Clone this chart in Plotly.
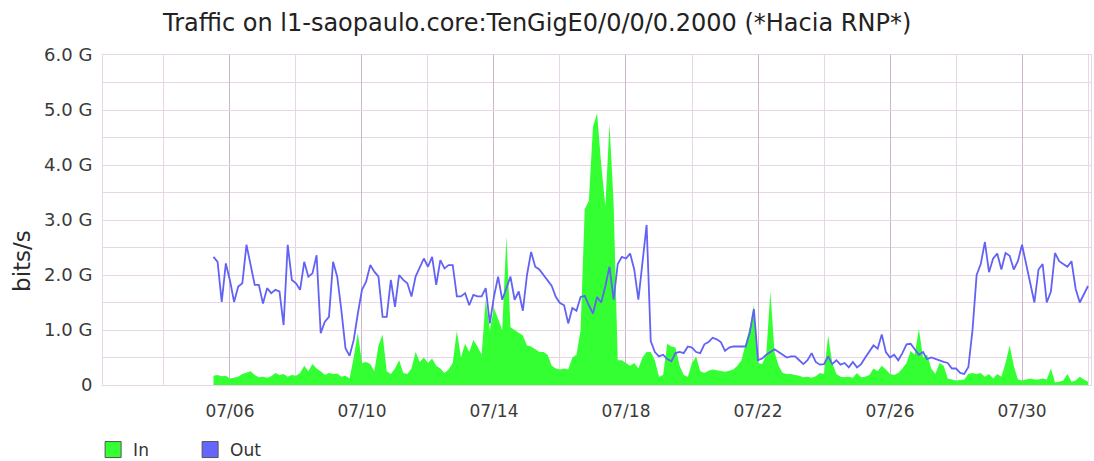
import pandas as pd
import plotly.graph_objects as go

# Samples every 3 hours starting 2013-07-05 12:00, values in Gbit/s
start = "2013-07-05 12:00"
step = "3h"

in_gbps = [
    0.17, 0.18, 0.16, 0.17, 0.12, 0.13, 0.15, 0.20, 0.22, 0.25,
    0.18, 0.14, 0.15, 0.13, 0.16, 0.22, 0.18, 0.20, 0.15, 0.18,
    0.17, 0.22, 0.35, 0.25, 0.38, 0.30, 0.25, 0.18, 0.22, 0.20,
    0.21, 0.15, 0.17, 0.12, 0.50, 0.95, 0.40, 0.42, 0.38, 0.25,
    0.72, 0.92, 0.25, 0.20, 0.30, 0.45, 0.22, 0.20, 0.30, 0.60,
    0.42, 0.50, 0.40, 0.48, 0.35, 0.30, 0.22, 0.28, 0.40, 0.98,
    0.50, 0.75, 0.60, 0.82, 0.70, 0.55, 1.55, 1.00, 1.40, 1.20,
    1.00, 2.70, 1.05, 1.00, 0.95, 0.90, 0.72, 0.70, 0.65, 0.60,
    0.60, 0.55, 0.35, 0.30, 0.28, 0.30, 0.28, 0.50, 0.55, 1.00,
    3.20, 3.35, 4.70, 4.94, 4.00, 3.25, 4.75, 3.30, 0.45, 0.45,
    0.40, 0.35, 0.40, 0.30, 0.50, 0.60, 0.60, 0.45, 0.15, 0.18,
    0.75, 0.70, 0.68, 0.35, 0.18, 0.15, 0.40, 0.52, 0.25, 0.22,
    0.26, 0.28, 0.27, 0.25, 0.24, 0.26, 0.28, 0.35, 0.45, 0.75,
    1.05, 1.45, 0.40, 0.38, 0.55, 1.70, 0.60, 0.35, 0.22, 0.20,
    0.20, 0.18, 0.17, 0.14, 0.15, 0.13, 0.16, 0.22, 0.20, 0.90,
    0.40, 0.20, 0.15, 0.14, 0.15, 0.13, 0.22, 0.14, 0.15, 0.18,
    0.30, 0.25, 0.35, 0.28, 0.20, 0.18, 0.22, 0.30, 0.40, 0.62,
    0.55, 1.02, 0.50, 0.55, 0.30, 0.20, 0.40, 0.35, 0.12, 0.10,
    0.08, 0.09, 0.10, 0.20, 0.22, 0.20, 0.22, 0.15, 0.20, 0.12,
    0.20, 0.15, 0.40, 0.72, 0.35, 0.10, 0.08, 0.10, 0.12, 0.10,
    0.10, 0.12, 0.10, 0.30, 0.05, 0.06, 0.08, 0.20, 0.06, 0.08,
    0.15, 0.10, 0.06,
]

out_gbps = [
    2.33, 2.24, 1.51, 2.21, 1.90, 1.51, 1.79, 1.85, 2.55, 2.21,
    1.82, 1.82, 1.48, 1.76, 1.67, 1.73, 1.70, 1.09, 2.55, 1.91,
    1.85, 1.73, 2.24, 1.97, 2.03, 2.36, 0.94, 1.15, 1.24, 2.24,
    1.97, 1.36, 0.67, 0.53, 0.82, 1.30, 1.73, 1.88, 2.18, 2.06,
    1.97, 1.24, 1.24, 1.91, 1.42, 2.00, 1.91, 1.85, 1.61, 1.97,
    2.15, 2.30, 2.15, 2.33, 1.82, 2.27, 2.12, 2.18, 2.18, 1.61,
    1.61, 1.67, 1.45, 1.64, 1.61, 1.61, 1.76, 1.12, 1.61, 1.97,
    1.55, 1.75, 1.97, 1.55, 1.70, 1.35, 2.00, 2.42, 2.15, 2.10,
    2.00, 1.90, 1.80, 1.60, 1.49, 1.45, 1.12, 1.40, 1.35, 1.60,
    1.62, 1.45, 1.30, 1.60, 1.50, 1.80, 2.15, 1.55, 2.20, 2.33,
    2.30, 2.39, 2.10, 1.55, 2.20, 2.91, 0.80, 0.60, 0.52, 0.55,
    0.47, 0.43, 0.58, 0.60, 0.58, 0.70, 0.68, 0.60, 0.58, 0.74,
    0.78, 0.86, 0.83, 0.78, 0.62, 0.68, 0.70, 0.70, 0.70, 0.70,
    0.95, 1.38, 0.45, 0.48, 0.55, 0.60, 0.65, 0.60, 0.55, 0.50,
    0.52, 0.52, 0.45, 0.38, 0.45, 0.58, 0.42, 0.37, 0.38, 0.52,
    0.38, 0.45, 0.37, 0.40, 0.32, 0.42, 0.32, 0.38, 0.50, 0.60,
    0.72, 0.66, 0.92, 0.60, 0.50, 0.55, 0.45, 0.58, 0.74, 0.75,
    0.65, 0.55, 0.60, 0.47, 0.50, 0.47, 0.45, 0.42, 0.40, 0.30,
    0.30, 0.22, 0.20, 0.33, 1.00, 2.00, 2.20, 2.60, 2.05, 2.30,
    2.39, 2.10, 2.40, 2.35, 2.10, 2.25, 2.55, 2.20, 1.85, 1.50,
    2.10, 2.20, 1.50, 1.70, 2.40, 2.25, 2.20, 2.15, 2.25, 1.75,
    1.50, 1.65, 1.80,
]

y_tick_vals = [0, 1, 2, 3, 4, 5, 6]
y_tick_text = ["0", "1.0 G", "2.0 G", "3.0 G", "4.0 G", "5.0 G", "6.0 G"]

times = pd.date_range(start=start, periods=len(in_gbps), freq=step)

FONT = "DejaVu Sans, Verdana, sans-serif"
GREEN = "#33ff33"
BLUE = "#6262f6"
GRID = "#e6d6e6"
GRID_MAJOR = "#cbb6cb"

fig = go.Figure()

fig.add_trace(go.Scatter(
    x=times, y=in_gbps, mode="lines", fill="tozeroy",
    line=dict(width=0, color=GREEN), fillcolor=GREEN,
    showlegend=False, hoverinfo="skip",
))
fig.add_trace(go.Scatter(
    x=times, y=out_gbps, mode="lines",
    line=dict(width=1.8, color=BLUE),
    showlegend=False, hoverinfo="skip",
))

# legend swatches
for name, col in [("In", GREEN), ("Out", "#6666ff")]:
    fig.add_trace(go.Scatter(
        x=[None], y=[None], mode="markers", name=name,
        marker=dict(symbol="square", size=20, color=col,
                    line=dict(color="#555555", width=1)),
    ))

day_ms = 24 * 3600 * 1000

fig.update_layout(
    width=1094, height=461,
    margin=dict(l=103, r=3, t=55, b=76, autoexpand=False),
    paper_bgcolor="white", plot_bgcolor="white",
    font=dict(family=FONT, size=17, color="#3a3a3a"),
    title=dict(
        text="Traffic on l1-saopaulo.core:TenGigE0/0/0/0.2000 (*Hacia RNP*)",
        x=0.491, xanchor="center", y=0.952, yanchor="middle",
        font=dict(family=FONT, size=24, color="#222222"),
    ),
    showlegend=True,
    legend=dict(
        orientation="h", x=-0.01, xanchor="left", y=-0.197, yanchor="middle",
        font=dict(family=FONT, size=17, color="#333333"),
        itemsizing="trace", entrywidth=52, bgcolor="rgba(0,0,0,0)",
    ),
    xaxis=dict(
        type="date",
        range=["2013-07-02 03:40", "2013-08-01 02:10"],
        tick0="2013-07-06", dtick=4 * day_ms, tickformat="%m/%d",
        showgrid=True, gridcolor=GRID_MAJOR, gridwidth=1,
        minor=dict(tick0="2013-07-02", dtick=2 * day_ms,
                   showgrid=True, gridcolor=GRID, gridwidth=1),
        showline=True, mirror=True, linecolor=GRID, linewidth=1,
        zeroline=False, ticks="", ticklabelstandoff=11,
        tickfont=dict(family=FONT, size=17, color="#3a3a3a"),
    ),
    yaxis=dict(
        range=[0, 6],
        tickvals=y_tick_vals, ticktext=y_tick_text,
        showgrid=True, gridcolor=GRID, gridwidth=1,
        minor=dict(dtick=0.5, showgrid=True, gridcolor=GRID, gridwidth=1),
        showline=True, mirror=True, linecolor=GRID, linewidth=1,
        zeroline=False, ticks="", ticklabelstandoff=6,
        tickfont=dict(family=FONT, size=18, color="#3a3a3a"),
    ),
    annotations=[dict(
        text="bits/s", textangle=-90, showarrow=False,
        xref="paper", yref="paper", x=-0.082, y=0.376,
        xanchor="center", yanchor="middle",
        font=dict(family=FONT, size=23, color="#2a2a2a"),
    )],
)

fig.write_html("out.html")
